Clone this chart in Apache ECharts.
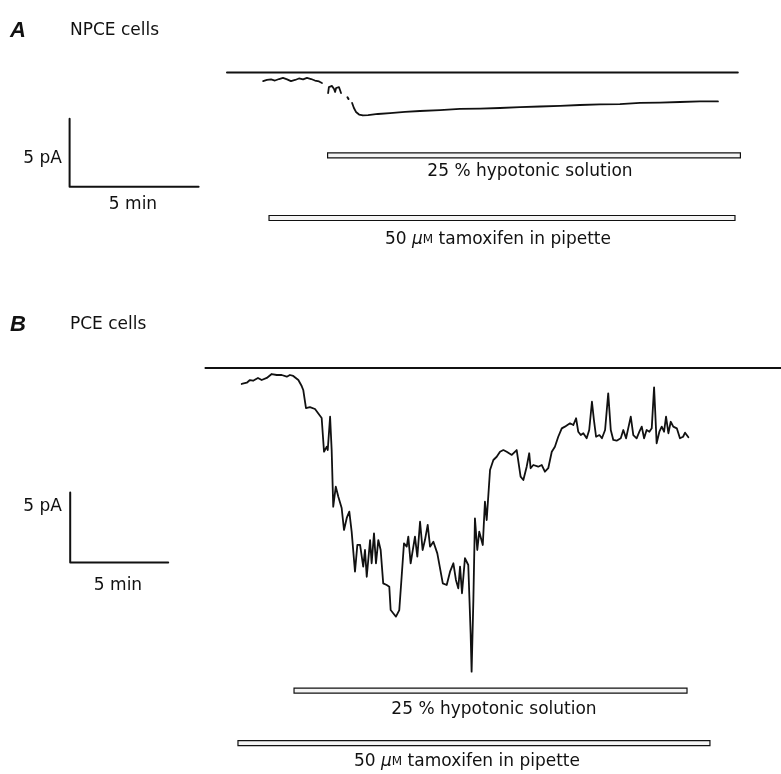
<!DOCTYPE html>
<html>
<head>
<meta charset="utf-8">
<script src="https://cdn.jsdelivr.net/npm/echarts@6/dist/echarts.min.js"></script>
<style>
  html, body { margin: 0; padding: 0; background: #fff; }
  #chart { width: 781px; height: 774px; }
</style>
</head>
<body>
<div id="chart"></div>
<script>
// time in min, current in pA (0 = baseline line, negative = downward)

// panel A: NPCE cells
const npceBaseline = [8.1, 27.9];
const npceTrace1 = [
  [9.5, -0.63], [9.65, -0.55], [9.81, -0.51], [9.96, -0.59], [10.12, -0.48], [10.27, -0.4],
  [10.43, -0.51], [10.58, -0.63], [10.74, -0.55], [10.89, -0.44], [11.05, -0.51], [11.2, -0.4],
  [11.36, -0.48], [11.51, -0.59], [11.67, -0.66], [11.78, -0.77]
];
const npceTrace2 = [
  [12.02, -1.51], [12.05, -1.07], [12.17, -0.99], [12.25, -1.21], [12.29, -1.43],
  [12.33, -1.14], [12.44, -1.07], [12.52, -1.51]
];
const npceDot = [[12.77, -1.82], [12.81, -1.95]];
const npceTrace3 = [
  [12.95, -2.24], [13.02, -2.61], [13.1, -2.9], [13.22, -3.09], [13.37, -3.16], [13.57, -3.13],
  [13.95, -3.05], [14.42, -2.98], [15.0, -2.9], [15.58, -2.83], [16.36, -2.76], [17.13, -2.68],
  [17.91, -2.65], [18.68, -2.61], [19.46, -2.54], [20.23, -2.5], [21.01, -2.46], [21.78, -2.39],
  [22.56, -2.35], [23.33, -2.32], [24.11, -2.24], [24.88, -2.21], [25.66, -2.17], [26.43, -2.13],
  [27.13, -2.13]
];
// [start, end, level]
const npceHypo = [12.0, 28.0, -6.1];
const npceTamox = [9.73, 27.79, -10.7];
const npceScale = [2, -8.4]; // corner of 5 min / 5 pA bars

// panel B: PCE cells
const pceBaseline = [8.9, 38.25];
const pceTrace = [
  [10.75, -1.14], [11.01, -1.05], [11.17, -0.86], [11.33, -0.91], [11.58, -0.71], [11.77, -0.86],
  [12.03, -0.71], [12.28, -0.43], [12.54, -0.5], [12.79, -0.5], [13.05, -0.62], [13.21, -0.5],
  [13.38, -0.57], [13.64, -0.86], [13.81, -1.29], [13.89, -1.57], [14.03, -2.86], [14.23, -2.79],
  [14.49, -2.93], [14.83, -3.57], [14.95, -5.98], [15.09, -5.62], [15.14, -5.86], [15.26, -3.48],
  [15.34, -5.86], [15.42, -9.91], [15.55, -8.48], [15.68, -9.19], [15.85, -10.0], [15.97, -11.57],
  [16.11, -10.71], [16.24, -10.26], [16.36, -11.69], [16.44, -11.57], [16.53, -14.55], [16.65, -12.64],
  [16.79, -12.64], [16.95, -14.19], [17.04, -13.0], [17.13, -14.91], [17.3, -12.29], [17.38, -13.95],
  [17.5, -11.81], [17.6, -13.95], [17.72, -12.29], [17.84, -13.0], [17.97, -15.38], [18.15, -15.5],
  [18.28, -15.62], [18.35, -17.29], [18.48, -17.52], [18.62, -17.76], [18.79, -17.29], [18.91, -14.91],
  [19.03, -12.52], [19.17, -12.76], [19.25, -12.05], [19.37, -13.95], [19.59, -12.05], [19.71, -13.48],
  [19.85, -10.98], [19.98, -13.0], [20.1, -12.29], [20.24, -11.21], [20.36, -12.76], [20.53, -12.41],
  [20.73, -13.24], [21.01, -15.38], [21.21, -15.5], [21.38, -14.55], [21.55, -13.95], [21.68, -15.14],
  [21.8, -15.74], [21.89, -14.19], [21.99, -16.09], [22.14, -13.59], [22.31, -14.07], [22.43, -18.95],
  [22.48, -21.69], [22.57, -16.57], [22.65, -10.74], [22.77, -13.0], [22.87, -11.69], [23.05, -12.64],
  [23.16, -9.55], [23.25, -10.86], [23.42, -7.29], [23.59, -6.57], [23.76, -6.34], [23.93, -5.98],
  [24.1, -5.86], [24.27, -5.98], [24.53, -6.21], [24.78, -5.86], [24.86, -5.86], [24.98, -7.76],
  [25.12, -8.0], [25.29, -7.05], [25.42, -6.09], [25.49, -7.16], [25.63, -6.93], [25.88, -7.05],
  [26.06, -6.93], [26.22, -7.41], [26.39, -7.16], [26.57, -5.98], [26.73, -5.62], [26.9, -4.91],
  [27.08, -4.31], [27.24, -4.19], [27.5, -3.95], [27.67, -4.07], [27.81, -3.59], [27.92, -4.55],
  [28.05, -4.79], [28.18, -4.66], [28.35, -5.02], [28.48, -4.43], [28.62, -2.41], [28.72, -3.71],
  [28.83, -4.91], [29.0, -4.79], [29.13, -5.02], [29.29, -4.43], [29.45, -1.81], [29.58, -4.43],
  [29.71, -5.14], [29.88, -5.19], [30.09, -5.02], [30.22, -4.43], [30.36, -5.02], [30.47, -4.31],
  [30.6, -3.48], [30.73, -4.79], [30.9, -5.02], [31.04, -4.55], [31.16, -4.19], [31.28, -5.02],
  [31.41, -4.43], [31.55, -4.55], [31.67, -4.31], [31.79, -1.38], [31.84, -2.88], [31.92, -5.38],
  [32.06, -4.55], [32.18, -4.19], [32.3, -4.55], [32.4, -3.48], [32.52, -4.66], [32.64, -3.84],
  [32.77, -4.19], [32.95, -4.31], [33.11, -5.02], [33.27, -4.91], [33.37, -4.62], [33.54, -4.95]
];
const pceHypo = [13.42, 33.47, -23.04];
const pceTamox = [10.56, 34.64, -26.79];
const pceScale = [2, -13.9];

const FONT = '"DejaVu Sans", sans-serif';
const INK = '#111';

const chart = echarts.init(document.getElementById('chart'), null, { renderer: 'canvas' });

const lineSeries = (data, xi, w) => ({
  type: 'line',
  xAxisIndex: xi,
  yAxisIndex: xi,
  data: data,
  symbol: 'none',
  clip: false,
  silent: true,
  animation: false,
  lineStyle: { color: INK, width: w, join: 'round', cap: 'round' },
});

const scaleBar = (corner, xi) => lineSeries(
  [[corner[0], corner[1] + 5], [corner[0], corner[1]], [corner[0] + 5, corner[1]]], xi, 2
);

const barSeries = (bars, xi) => ({
  type: 'custom',
  xAxisIndex: xi,
  yAxisIndex: xi,
  silent: true,
  animation: false,
  clip: false,
  encode: { x: [0, 1], y: 2 },
  data: bars,
  renderItem: function (params, api) {
    const a = api.coord([api.value(0), api.value(2)]);
    const b = api.coord([api.value(1), api.value(2)]);
    return {
      type: 'rect',
      shape: { x: a[0], y: a[1] - 2.5, width: b[0] - a[0], height: 5 },
      style: { fill: '#f4f4f4', stroke: INK, lineWidth: 1.2 },
    };
  },
});

const label = (text, x, y, align, extra) => ({
  type: 'text',
  x: x,
  y: y,
  silent: true,
  style: Object.assign({
    text: text,
    fill: INK,
    font: '17px ' + FONT,
    textAlign: align || 'center',
    textVerticalAlign: 'middle',
  }, extra || {}),
});

const tamoxLabel = (x, y) => ({
  type: 'text', x: x, y: y, silent: true,
  style: {
    text: '50 {mu|μ}{m|M} tamoxifen in pipette',
    fill: INK, font: '17px ' + FONT, textAlign: 'center', textVerticalAlign: 'middle',
    rich: { mu: { font: 'italic 17px ' + FONT, fill: INK }, m: { font: '12px ' + FONT, fill: INK } },
  },
});

const option = {
  backgroundColor: '#fff',
  animation: false,
  grid: [
    { left: 18, top: 18.1, width: 722.4, height: 217.6 },
    { left: 31, top: 340, width: 749.7, height: 420 },
  ],
  xAxis: [
    { type: 'value', gridIndex: 0, min: 0, max: 28, show: false },
    { type: 'value', gridIndex: 1, min: 0, max: 38.25, show: false },
  ],
  yAxis: [
    { type: 'value', gridIndex: 0, min: -12, max: 4, show: false },
    { type: 'value', gridIndex: 1, min: -28, max: 2, show: false },
  ],
  graphic: [
    label('A', 10, 31, 'left', { font: 'italic bold 22px "Liberation Sans", sans-serif' }),
    label('NPCE cells', 70, 31, 'left'),
    label('5 pA', 62, 159, 'right'),
    label('5 min', 133, 205),
    label('25 % hypotonic solution', 530, 172),
    tamoxLabel(498, 240),
    label('B', 10, 325, 'left', { font: 'italic bold 22px "Liberation Sans", sans-serif' }),
    label('PCE cells', 70, 325, 'left'),
    label('5 pA', 62, 507, 'right'),
    label('5 min', 118, 586),
    label('25 % hypotonic solution', 494, 710),
    tamoxLabel(467, 762),
  ],
  series: [
    lineSeries([[npceBaseline[0], 0], [npceBaseline[1], 0]], 0, 2),
    lineSeries(npceTrace1, 0, 1.8),
    lineSeries(npceTrace2, 0, 1.8),
    lineSeries(npceDot, 0, 2),
    lineSeries(npceTrace3, 0, 1.8),
    scaleBar(npceScale, 0),
    barSeries([npceHypo, npceTamox], 0),

    lineSeries([[pceBaseline[0], 0], [pceBaseline[1], 0]], 1, 2),
    lineSeries(pceTrace, 1, 1.8),
    scaleBar(pceScale, 1),
    barSeries([pceHypo, pceTamox], 1),
  ],
};

chart.setOption(option);
</script>
</body>
</html>
